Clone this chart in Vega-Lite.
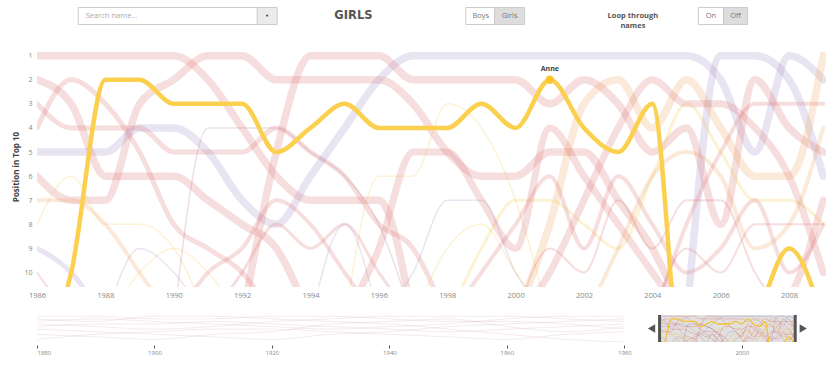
{
  "$schema": "https://vega.github.io/schema/vega-lite/v6.json",
  "padding": {"left": 12, "top": 0, "right": 0, "bottom": 0},
  "background": "white",
  "spacing": 14,
  "config": {"view": {"stroke": null}, "font": "Open Sans", "axis": {"grid": false, "domain": false}},
  "datasets": {
    "header": [
      {"control": "search", "label": "Search name..."},
      {"control": "caret", "label": ""},
      {"control": "title", "label": "GIRLS"},
      {"control": "boys", "label": "Boys"},
      {"control": "girls", "label": "Girls"},
      {"control": "loop", "label": "Loop through\nnames"},
      {"control": "on", "label": "On"},
      {"control": "off", "label": "Off"}
    ],
    "brush": [{"start": 1986, "end": 2009.1}],
    "names": [
      {"name":"Anne","year":1986,"rank":14},{"name":"Anne","year":1987,"rank":10},{"name":"Anne","year":1988,"rank":2},{"name":"Anne","year":1989,"rank":2},{"name":"Anne","year":1990,"rank":3},{"name":"Anne","year":1991,"rank":3},{"name":"Anne","year":1992,"rank":3},{"name":"Anne","year":1993,"rank":5},{"name":"Anne","year":1994,"rank":4},{"name":"Anne","year":1995,"rank":3},{"name":"Anne","year":1996,"rank":4},{"name":"Anne","year":1997,"rank":4},{"name":"Anne","year":1998,"rank":4},{"name":"Anne","year":1999,"rank":3},{"name":"Anne","year":2000,"rank":4},{"name":"Anne","year":2001,"rank":2},{"name":"Anne","year":2002,"rank":4},{"name":"Anne","year":2003,"rank":5},{"name":"Anne","year":2004,"rank":3},{"name":"Anne","year":2005,"rank":16},{"name":"Anne","year":2006,"rank":14},{"name":"Anne","year":2007,"rank":12},{"name":"Anne","year":2008,"rank":9},{"name":"Anne","year":2009,"rank":12},
      {"name":"Linda","year":1986,"rank":1},{"name":"Linda","year":1987,"rank":1},{"name":"Linda","year":1988,"rank":1},{"name":"Linda","year":1989,"rank":1},{"name":"Linda","year":1990,"rank":1},{"name":"Linda","year":1991,"rank":2},{"name":"Linda","year":1992,"rank":4},{"name":"Linda","year":1993,"rank":6},{"name":"Linda","year":1994,"rank":7},{"name":"Linda","year":1995,"rank":7},{"name":"Linda","year":1996,"rank":7},{"name":"Linda","year":1997,"rank":12},
      {"name":"Kim","year":1986,"rank":2},{"name":"Kim","year":1987,"rank":3},{"name":"Kim","year":1988,"rank":6},{"name":"Kim","year":1989,"rank":6},{"name":"Kim","year":1990,"rank":6},{"name":"Kim","year":1991,"rank":7},{"name":"Kim","year":1992,"rank":8},{"name":"Kim","year":1993,"rank":9},{"name":"Kim","year":1994,"rank":12},
      {"name":"Lisa","year":1986,"rank":6},{"name":"Lisa","year":1987,"rank":7},{"name":"Lisa","year":1988,"rank":7},{"name":"Lisa","year":1989,"rank":3},{"name":"Lisa","year":1990,"rank":2},{"name":"Lisa","year":1991,"rank":1},{"name":"Lisa","year":1992,"rank":1},{"name":"Lisa","year":1993,"rank":2},{"name":"Lisa","year":1994,"rank":2},{"name":"Lisa","year":1995,"rank":2},{"name":"Lisa","year":1996,"rank":2},{"name":"Lisa","year":1997,"rank":3},{"name":"Lisa","year":1998,"rank":5},{"name":"Lisa","year":1999,"rank":6},{"name":"Lisa","year":2000,"rank":6},{"name":"Lisa","year":2001,"rank":5},{"name":"Lisa","year":2002,"rank":5},{"name":"Lisa","year":2003,"rank":7},{"name":"Lisa","year":2004,"rank":9},{"name":"Lisa","year":2005,"rank":12},
      {"name":"Sanne","year":1986,"rank":3},{"name":"Sanne","year":1987,"rank":4},{"name":"Sanne","year":1988,"rank":4},{"name":"Sanne","year":1989,"rank":4},{"name":"Sanne","year":1990,"rank":5},{"name":"Sanne","year":1991,"rank":5},{"name":"Sanne","year":1992,"rank":5},{"name":"Sanne","year":1993,"rank":4},{"name":"Sanne","year":1994,"rank":5},{"name":"Sanne","year":1995,"rank":6},{"name":"Sanne","year":1996,"rank":8},{"name":"Sanne","year":1997,"rank":9},{"name":"Sanne","year":1998,"rank":12},
      {"name":"Marloes","year":1986,"rank":4},{"name":"Marloes","year":1987,"rank":2},{"name":"Marloes","year":1988,"rank":3},{"name":"Marloes","year":1989,"rank":5},{"name":"Marloes","year":1990,"rank":8},{"name":"Marloes","year":1991,"rank":9},{"name":"Marloes","year":1992,"rank":10},{"name":"Marloes","year":1993,"rank":12},
      {"name":"Femke","year":1986,"rank":5},{"name":"Femke","year":1987,"rank":5},{"name":"Femke","year":1988,"rank":5},{"name":"Femke","year":1989,"rank":4},{"name":"Femke","year":1990,"rank":4},{"name":"Femke","year":1991,"rank":5},{"name":"Femke","year":1992,"rank":7},{"name":"Femke","year":1993,"rank":8},{"name":"Femke","year":1994,"rank":6},{"name":"Femke","year":1995,"rank":4},{"name":"Femke","year":1996,"rank":2},{"name":"Femke","year":1997,"rank":1},{"name":"Femke","year":1998,"rank":1},{"name":"Femke","year":1999,"rank":1},{"name":"Femke","year":2000,"rank":1},{"name":"Femke","year":2001,"rank":1},{"name":"Femke","year":2002,"rank":1},{"name":"Femke","year":2003,"rank":1},{"name":"Femke","year":2004,"rank":1},{"name":"Femke","year":2005,"rank":1},{"name":"Femke","year":2006,"rank":2},{"name":"Femke","year":2007,"rank":5},{"name":"Femke","year":2008,"rank":1},{"name":"Femke","year":2009,"rank":2},
      {"name":"Iris","year":2005,"rank":12},{"name":"Iris","year":2006,"rank":1},{"name":"Iris","year":2007,"rank":1},{"name":"Iris","year":2008,"rank":2},{"name":"Iris","year":2009,"rank":6},
      {"name":"Laura","year":1992,"rank":12},{"name":"Laura","year":1993,"rank":5},{"name":"Laura","year":1994,"rank":1},{"name":"Laura","year":1995,"rank":1},{"name":"Laura","year":1996,"rank":1},{"name":"Laura","year":1997,"rank":2},{"name":"Laura","year":1998,"rank":2},{"name":"Laura","year":1999,"rank":2},{"name":"Laura","year":2000,"rank":2},{"name":"Laura","year":2001,"rank":3},{"name":"Laura","year":2002,"rank":2},{"name":"Laura","year":2003,"rank":3},{"name":"Laura","year":2004,"rank":5},{"name":"Laura","year":2005,"rank":4},{"name":"Laura","year":2006,"rank":8},{"name":"Laura","year":2007,"rank":2},{"name":"Laura","year":2008,"rank":4},{"name":"Laura","year":2009,"rank":5},
      {"name":"Eva","year":2000,"rank":12},{"name":"Eva","year":2001,"rank":8},{"name":"Eva","year":2002,"rank":3},{"name":"Eva","year":2003,"rank":2},{"name":"Eva","year":2004,"rank":4},{"name":"Eva","year":2005,"rank":2},{"name":"Eva","year":2006,"rank":4},{"name":"Eva","year":2007,"rank":6},{"name":"Eva","year":2008,"rank":6},{"name":"Eva","year":2009,"rank":1},
      {"name":"Julia","year":2004,"rank":12},{"name":"Julia","year":2005,"rank":8},{"name":"Julia","year":2006,"rank":5},{"name":"Julia","year":2007,"rank":3},{"name":"Julia","year":2008,"rank":3},{"name":"Julia","year":2009,"rank":3},
      {"name":"Lotte","year":1986,"rank":8},{"name":"Lotte","year":1987,"rank":6},{"name":"Lotte","year":1988,"rank":8},{"name":"Lotte","year":1989,"rank":8},{"name":"Lotte","year":1990,"rank":9},{"name":"Lotte","year":1991,"rank":12},
      {"name":"Chantal","year":1986,"rank":7},{"name":"Chantal","year":1987,"rank":7},{"name":"Chantal","year":1988,"rank":8},{"name":"Chantal","year":1989,"rank":10},{"name":"Chantal","year":1990,"rank":12},
      {"name":"Daphne","year":1986,"rank":9},{"name":"Daphne","year":1987,"rank":10},{"name":"Daphne","year":1988,"rank":12},
      {"name":"Esther","year":1986,"rank":10},{"name":"Esther","year":1987,"rank":12},
      {"name":"Maaike","year":1995,"rank":12},{"name":"Maaike","year":1996,"rank":6},{"name":"Maaike","year":1997,"rank":6},{"name":"Maaike","year":1998,"rank":3},{"name":"Maaike","year":1999,"rank":4},{"name":"Maaike","year":2000,"rank":7},{"name":"Maaike","year":2001,"rank":12},
      {"name":"Fleur","year":1998,"rank":12},{"name":"Fleur","year":1999,"rank":9},{"name":"Fleur","year":2000,"rank":7},{"name":"Fleur","year":2001,"rank":7},{"name":"Fleur","year":2002,"rank":8},{"name":"Fleur","year":2003,"rank":9},{"name":"Fleur","year":2004,"rank":6},{"name":"Fleur","year":2005,"rank":3},{"name":"Fleur","year":2006,"rank":5},{"name":"Fleur","year":2007,"rank":7},{"name":"Fleur","year":2008,"rank":7},{"name":"Fleur","year":2009,"rank":8},
      {"name":"Anouk","year":1990,"rank":12},{"name":"Anouk","year":1991,"rank":4},{"name":"Anouk","year":1992,"rank":4},{"name":"Anouk","year":1993,"rank":4},{"name":"Anouk","year":1994,"rank":5},{"name":"Anouk","year":1995,"rank":6},{"name":"Anouk","year":1996,"rank":8},{"name":"Anouk","year":1997,"rank":12},
      {"name":"Manon","year":1998,"rank":12},{"name":"Manon","year":1999,"rank":10},{"name":"Manon","year":2000,"rank":8},{"name":"Manon","year":2001,"rank":6},{"name":"Manon","year":2002,"rank":9},{"name":"Manon","year":2003,"rank":6},{"name":"Manon","year":2004,"rank":8},{"name":"Manon","year":2005,"rank":10},{"name":"Manon","year":2006,"rank":9},{"name":"Manon","year":2007,"rank":7},{"name":"Manon","year":2008,"rank":10},{"name":"Manon","year":2009,"rank":8},
      {"name":"Britt","year":2000,"rank":12},{"name":"Britt","year":2001,"rank":10},{"name":"Britt","year":2002,"rank":7},{"name":"Britt","year":2003,"rank":4},{"name":"Britt","year":2004,"rank":2},{"name":"Britt","year":2005,"rank":3},{"name":"Britt","year":2006,"rank":3},{"name":"Britt","year":2007,"rank":4},{"name":"Britt","year":2008,"rank":6},{"name":"Britt","year":2009,"rank":10},
      {"name":"Sara","year":2002,"rank":12},{"name":"Sara","year":2003,"rank":9},{"name":"Sara","year":2004,"rank":6},{"name":"Sara","year":2005,"rank":5},{"name":"Sara","year":2006,"rank":6},{"name":"Sara","year":2007,"rank":9},{"name":"Sara","year":2008,"rank":8},{"name":"Sara","year":2009,"rank":4},
      {"name":"Tess","year":2004,"rank":12},{"name":"Tess","year":2005,"rank":9},{"name":"Tess","year":2006,"rank":10},{"name":"Tess","year":2007,"rank":8},{"name":"Tess","year":2008,"rank":8},{"name":"Tess","year":2009,"rank":8},
      {"name":"Isa","year":2007,"rank":12},{"name":"Isa","year":2008,"rank":11},{"name":"Isa","year":2009,"rank":7},
      {"name":"Kelly","year":1995,"rank":12},{"name":"Kelly","year":1996,"rank":9},{"name":"Kelly","year":1997,"rank":5},{"name":"Kelly","year":1998,"rank":5},{"name":"Kelly","year":1999,"rank":7},{"name":"Kelly","year":2000,"rank":9},{"name":"Kelly","year":2001,"rank":4},{"name":"Kelly","year":2002,"rank":6},{"name":"Kelly","year":2003,"rank":8},{"name":"Kelly","year":2004,"rank":10},{"name":"Kelly","year":2005,"rank":12},
      {"name":"Melissa","year":1996,"rank":12},{"name":"Melissa","year":1997,"rank":10},{"name":"Melissa","year":1998,"rank":7},{"name":"Melissa","year":1999,"rank":7},{"name":"Melissa","year":2000,"rank":10},{"name":"Melissa","year":2001,"rank":12},
      {"name":"Nicole","year":1990,"rank":12},{"name":"Nicole","year":1991,"rank":10},{"name":"Nicole","year":1992,"rank":9},{"name":"Nicole","year":1993,"rank":7},{"name":"Nicole","year":1994,"rank":8},{"name":"Nicole","year":1995,"rank":10},{"name":"Nicole","year":1996,"rank":12},
      {"name":"Mandy","year":1988,"rank":12},{"name":"Mandy","year":1989,"rank":10},{"name":"Mandy","year":1990,"rank":9},{"name":"Mandy","year":1991,"rank":10},{"name":"Mandy","year":1992,"rank":12},
      {"name":"Petra","year":1988,"rank":12},{"name":"Petra","year":1989,"rank":9},{"name":"Petra","year":1990,"rank":10},{"name":"Petra","year":1991,"rank":12},
      {"name":"Denise","year":1991,"rank":12},{"name":"Denise","year":1992,"rank":10},{"name":"Denise","year":1993,"rank":8},{"name":"Denise","year":1994,"rank":9},{"name":"Denise","year":1995,"rank":8},{"name":"Denise","year":1996,"rank":10},{"name":"Denise","year":1997,"rank":12},
      {"name":"Jessica","year":1994,"rank":12},{"name":"Jessica","year":1995,"rank":8},{"name":"Jessica","year":1996,"rank":12},
      {"name":"Romy","year":1997,"rank":12},{"name":"Romy","year":1998,"rank":9},{"name":"Romy","year":1999,"rank":8},{"name":"Romy","year":2000,"rank":10},{"name":"Romy","year":2001,"rank":12},
      {"name":"Naomi","year":2000,"rank":12},{"name":"Naomi","year":2001,"rank":9},{"name":"Naomi","year":2002,"rank":10},{"name":"Naomi","year":2003,"rank":7},{"name":"Naomi","year":2004,"rank":9},{"name":"Naomi","year":2005,"rank":7},{"name":"Naomi","year":2006,"rank":7},{"name":"Naomi","year":2007,"rank":10},{"name":"Naomi","year":2008,"rank":12}
    ],
    "hist": [
      {"name":"h1","year":1880,"rank":1},{"name":"h1","year":1890,"rank":1},{"name":"h1","year":1900,"rank":2},{"name":"h1","year":1910,"rank":2},{"name":"h1","year":1920,"rank":1},{"name":"h1","year":1930,"rank":1},{"name":"h1","year":1940,"rank":2},{"name":"h1","year":1950,"rank":3},{"name":"h1","year":1960,"rank":3},{"name":"h1","year":1970,"rank":4},{"name":"h1","year":1980,"rank":6},
      {"name":"h2","year":1880,"rank":2},{"name":"h2","year":1890,"rank":3},{"name":"h2","year":1900,"rank":1},{"name":"h2","year":1910,"rank":1},{"name":"h2","year":1920,"rank":2},{"name":"h2","year":1930,"rank":3},{"name":"h2","year":1940,"rank":4},{"name":"h2","year":1950,"rank":6},{"name":"h2","year":1960,"rank":8},{"name":"h2","year":1970,"rank":10},{"name":"h2","year":1980,"rank":11},
      {"name":"h3","year":1880,"rank":3},{"name":"h3","year":1890,"rank":2},{"name":"h3","year":1900,"rank":3},{"name":"h3","year":1910,"rank":4},{"name":"h3","year":1920,"rank":5},{"name":"h3","year":1930,"rank":6},{"name":"h3","year":1940,"rank":5},{"name":"h3","year":1950,"rank":4},{"name":"h3","year":1960,"rank":2},{"name":"h3","year":1970,"rank":1},{"name":"h3","year":1980,"rank":1},
      {"name":"h4","year":1880,"rank":4},{"name":"h4","year":1890,"rank":5},{"name":"h4","year":1900,"rank":6},{"name":"h4","year":1910,"rank":5},{"name":"h4","year":1920,"rank":3},{"name":"h4","year":1930,"rank":2},{"name":"h4","year":1940,"rank":1},{"name":"h4","year":1950,"rank":1},{"name":"h4","year":1960,"rank":1},{"name":"h4","year":1970,"rank":2},{"name":"h4","year":1980,"rank":3},
      {"name":"h5","year":1880,"rank":5},{"name":"h5","year":1890,"rank":4},{"name":"h5","year":1900,"rank":4},{"name":"h5","year":1910,"rank":3},{"name":"h5","year":1920,"rank":4},{"name":"h5","year":1930,"rank":5},{"name":"h5","year":1940,"rank":6},{"name":"h5","year":1950,"rank":7},{"name":"h5","year":1960,"rank":6},{"name":"h5","year":1970,"rank":5},{"name":"h5","year":1980,"rank":4},
      {"name":"h6","year":1880,"rank":6},{"name":"h6","year":1890,"rank":7},{"name":"h6","year":1900,"rank":8},{"name":"h6","year":1910,"rank":9},{"name":"h6","year":1920,"rank":10},{"name":"h6","year":1930,"rank":8},{"name":"h6","year":1940,"rank":7},{"name":"h6","year":1950,"rank":5},{"name":"h6","year":1960,"rank":4},{"name":"h6","year":1970,"rank":3},{"name":"h6","year":1980,"rank":2},
      {"name":"h7","year":1880,"rank":8},{"name":"h7","year":1890,"rank":9},{"name":"h7","year":1900,"rank":10},{"name":"h7","year":1910,"rank":8},{"name":"h7","year":1920,"rank":7},{"name":"h7","year":1930,"rank":4},{"name":"h7","year":1940,"rank":3},{"name":"h7","year":1950,"rank":2},{"name":"h7","year":1960,"rank":5},{"name":"h7","year":1970,"rank":7},{"name":"h7","year":1980,"rank":5},
      {"name":"h8","year":1880,"rank":10},{"name":"h8","year":1890,"rank":8},{"name":"h8","year":1900,"rank":7},{"name":"h8","year":1910,"rank":6},{"name":"h8","year":1920,"rank":6},{"name":"h8","year":1930,"rank":7},{"name":"h8","year":1940,"rank":8},{"name":"h8","year":1950,"rank":9},{"name":"h8","year":1960,"rank":10},{"name":"h8","year":1970,"rank":8},{"name":"h8","year":1980,"rank":7}
    ]
  },
  "vconcat": [
    {
      "width": 789,
      "height": 32,
      "data": {"name": "header"},
      "encoding": {
        "x": {"field": "control", "type": "nominal", "axis": null,
          "scale": {"type": "point", "padding": 0, "domain": ["0","1","2","3","4","5","6","7","8","9","10","11","12","13","14","15","16","17","18","19","20","21","22","23","24","25","26","27","28","29","30","31","32","33","search","35","36","37","38","39","40","41","42","43","44","45","46","47","48","49","50","51","52","53","54","55","caret","57","58","59","60","61","62","63","64","65","66","67","68","69","70","71","72","73","74","75","76","title","78","79","80","81","82","83","84","85","86","87","88","89","90","91","92","93","94","95","96","97","98","99","100","101","102","103","104","105","106","107","boys","109","110","111","112","113","114","girls","116","117","118","119","120","121","122","123","124","125","126","127","128","129","130","131","132","133","134","135","136","137","138","139","140","141","142","143","144","loop","146","147","148","149","150","151","152","153","154","155","156","157","158","159","160","161","162","163","on","165","166","167","168","169","off","171","172","173","174","175","176","177","178","179","180","181","182","183","184","185","186","187","188","189","190","191","192"]}}
      },
      "layer": [
        {
          "transform": [{"filter": {"field": "control", "oneOf": ["search", "caret", "boys", "girls", "on", "off"]}}],
          "mark": {"type": "point", "filled": true, "size": 4, "opacity": 1, "stroke": "#cccccc", "strokeWidth": 1},
          "encoding": {
            "shape": {"field": "control", "type": "nominal", "legend": null,
              "scale": {"domain": ["search", "caret", "boys", "girls", "on", "off"],
                "range": ["M-98.5,-8.5H98.5V8.5H-98.5Z", "M-10,-8.5H10V8.5H-10Z", "M-15,-8.5H15V8.5H-15Z", "M-15,-8.5H15V8.5H-15Z", "M-12.5,-8.5H12.5V8.5H-12.5Z", "M-12,-8.5H12V8.5H-12Z"]}},
            "fill": {"field": "control", "type": "nominal", "legend": null,
              "scale": {"domain": ["search", "caret", "boys", "girls", "on", "off"],
                "range": ["#ffffff", "#ebebeb", "#ffffff", "#dddddd", "#ffffff", "#dddddd"]}}
          }
        },
        {
          "transform": [{"filter": "datum.control == 'caret'"}],
          "mark": {"type": "point", "shape": "triangle-down", "filled": true, "size": 9, "color": "#555555", "opacity": 1}
        },
        {
          "transform": [{"filter": "datum.control == 'search'"}],
          "mark": {"type": "text", "align": "left", "dx": -91, "fontSize": 7.5, "color": "#aaaaaa"},
          "encoding": {"text": {"field": "label"}}
        },
        {
          "transform": [{"filter": "datum.control == 'title'"}],
          "mark": {"type": "text", "fontSize": 11.5, "fontWeight": "bold", "font": "DejaVu Sans", "color": "#555555"},
          "encoding": {"text": {"field": "label"}}
        },
        {
          "transform": [{"filter": {"field": "control", "oneOf": ["boys", "girls", "on", "off"]}}],
          "mark": {"type": "text", "fontSize": 7.5, "color": "#777777"},
          "encoding": {"text": {"field": "label"}}
        },
        {
          "transform": [{"filter": "datum.control == 'loop'"}],
          "mark": {"type": "text", "fontSize": 7.5, "fontWeight": "bold", "color": "#555555", "lineBreak": "\n", "lineHeight": 10},
          "encoding": {"text": {"field": "label"}}
        }
      ]
    },
    {
      "width": 789,
      "height": 241,
      "data": {"name": "names"},
      "encoding": {
        "x": {"field": "year", "type": "quantitative",
          "scale": {"domain": [1986, 2009.08], "nice": false, "zero": false},
          "axis": {"values": [1986,1988,1990,1992,1994,1996,1998,2000,2002,2004,2006,2008], "format": "d", "labelFontSize": 7.5, "labelColor": "#888888", "ticks": false, "domain": false, "labelPadding": 4, "title": null, "minExtent": 12, "maxExtent": 12, "labelFlush": false}},
        "y": {"field": "rank", "type": "quantitative",
          "scale": {"domain": [0.6, 10.6], "reverse": true, "nice": false, "zero": false},
          "axis": {"values": [1,2,3,4,5,6,7,8,9,10], "labelFontSize": 7, "labelColor": "#888888", "ticks": false, "domain": false, "labelPadding": 5, "title": "Position in Top 10", "titleFontSize": 8, "titleFontWeight": "bold", "titleColor": "#444444", "titlePadding": 3}}
      },
      "layer": [
        {
          "transform": [{"filter": "datum.name != 'Anne'"}],
          "mark": {"type": "line", "interpolate": "monotone", "clip": true, "strokeOpacity": 0.22, "strokeCap": "round", "strokeJoin": "round"},
          "encoding": {
            "color": {"field": "name", "type": "nominal", "legend": null,
              "scale": {"domain": ["Anne","Linda","Kim","Lisa","Sanne","Marloes","Femke","Iris","Laura","Eva","Julia","Lotte","Chantal","Daphne","Esther","Maaike","Fleur","Anouk","Manon","Britt","Sara","Tess","Isa","Kelly","Melissa","Nicole","Mandy","Petra","Denise","Jessica","Romy","Naomi"],
                "range": ["#fcd04f","#d96b6b","#d96b6b","#d96b6b","#d96b6b","#d96b6b","#9c84bf","#9c84bf","#d96b6b","#ee9a55","#d96b6b","#f2c23a","#ee9a55","#9c84bf","#d96b6b","#f2c23a","#f2c23a","#b06a90","#d96b6b","#d96b6b","#ee9a55","#d96b6b","#d96b6b","#d96b6b","#9c84bf","#d96b6b","#f2c23a","#9c84bf","#d96b6b","#9c84bf","#f2c23a","#d96b6b"]}},
            "strokeWidth": {"field": "name", "type": "nominal", "legend": null,
              "scale": {"type": "ordinal", "domain": ["Anne","Linda","Kim","Lisa","Sanne","Marloes","Femke","Iris","Laura","Eva","Julia","Lotte","Chantal","Daphne","Esther","Maaike","Fleur","Anouk","Manon","Britt","Sara","Tess","Isa","Kelly","Melissa","Nicole","Mandy","Petra","Denise","Jessica","Romy","Naomi"],
                "range": [4.5,7.5,7.5,7.5,5,5,7.5,7.5,7.5,7.5,4,1.5,4,5,2,1.5,3,1.5,4,7,4,2,7,7,1.5,4,1.5,1.5,3,1.5,1.5,2]}}
          }
        },
        {
          "transform": [{"filter": "datum.name == 'Anne'"}],
          "mark": {"type": "line", "interpolate": "monotone", "clip": true, "color": "#fcd04f", "strokeWidth": 4.5, "strokeCap": "round", "strokeJoin": "round"}
        },
        {
          "transform": [{"filter": "datum.name == 'Anne' && datum.year == 2001"}],
          "mark": {"type": "point", "filled": true, "size": 70, "color": "#fcc42e", "opacity": 1}
        },
        {
          "transform": [{"filter": "datum.name == 'Anne' && datum.year == 2001"}],
          "mark": {"type": "text", "dy": -11, "fontSize": 7, "fontWeight": "bold", "color": "#444444"},
          "encoding": {"text": {"field": "name"}}
        }
      ]
    },
    {
      "width": 787,
      "height": 27,
      "layer": [
        {
          "data": {"name": "brush"},
          "mark": {"type": "rect", "color": "#bdbdbd", "opacity": 0.45},
          "encoding": {
            "x": {"field": "start", "type": "quantitative", "scale": {"domain": [1880, 2014], "nice": false, "zero": false},
              "axis": {"values": [1880,1900,1920,1940,1960,1980,2000], "format": "d", "title": null, "labelFontSize": 6, "labelColor": "#888888", "tickSize": 3, "tickColor": "#555555", "offset": 3, "labelPadding": 1, "domain": false}},
            "x2": {"field": "end"}
          }
        },
        {
          "data": {"name": "hist"},
          "mark": {"type": "line", "interpolate": "monotone", "clip": true, "color": "#c9a0a0", "strokeOpacity": 0.3, "strokeWidth": 0.7},
          "encoding": {
            "x": {"field": "year", "type": "quantitative", "scale": {"domain": [1880, 2014], "nice": false, "zero": false},
              "axis": {"values": [1880,1900,1920,1940,1960,1980,2000], "format": "d", "title": null, "labelFontSize": 6, "labelColor": "#888888", "tickSize": 3, "tickColor": "#555555", "offset": 3, "labelPadding": 1, "domain": false}},
            "y": {"field": "rank", "type": "quantitative", "scale": {"domain": [0.5, 11], "reverse": true, "nice": false, "zero": false}, "axis": null},
            "detail": {"field": "name"}
          }
        },
        {
          "data": {"name": "names"},
          "transform": [{"filter": "datum.name != 'Anne'"}],
          "mark": {"type": "line", "interpolate": "monotone", "clip": true, "strokeOpacity": 0.5, "strokeWidth": 0.7},
          "encoding": {
            "x": {"field": "year", "type": "quantitative", "scale": {"domain": [1880, 2014], "nice": false, "zero": false},
              "axis": {"values": [1880,1900,1920,1940,1960,1980,2000], "format": "d", "title": null, "labelFontSize": 6, "labelColor": "#888888", "tickSize": 3, "tickColor": "#555555", "offset": 3, "labelPadding": 1, "domain": false}},
            "y": {"field": "rank", "type": "quantitative", "scale": {"domain": [0.5, 11], "reverse": true, "nice": false, "zero": false}, "axis": null},
            "color": {"field": "name", "type": "nominal", "legend": null,
              "scale": {"domain": ["Anne","Linda","Kim","Lisa","Sanne","Marloes","Femke","Iris","Laura","Eva","Julia","Lotte","Chantal","Daphne","Esther","Maaike","Fleur","Anouk","Manon","Britt","Sara","Tess","Isa","Kelly","Melissa","Nicole","Mandy","Petra","Denise","Jessica","Romy","Naomi"],
                "range": ["#fcd04f","#d96b6b","#d96b6b","#d96b6b","#d96b6b","#d96b6b","#9c84bf","#9c84bf","#d96b6b","#ee9a55","#d96b6b","#f2c23a","#ee9a55","#9c84bf","#d96b6b","#f2c23a","#f2c23a","#b06a90","#d96b6b","#d96b6b","#ee9a55","#d96b6b","#d96b6b","#d96b6b","#9c84bf","#d96b6b","#f2c23a","#9c84bf","#d96b6b","#9c84bf","#f2c23a","#d96b6b"]}}
          }
        },
        {
          "data": {"name": "names"},
          "transform": [{"filter": "datum.name == 'Anne'"}],
          "mark": {"type": "line", "interpolate": "monotone", "clip": true, "color": "#f5c030", "strokeWidth": 1.3},
          "encoding": {
            "x": {"field": "year", "type": "quantitative", "scale": {"domain": [1880, 2014], "nice": false, "zero": false},
              "axis": {"values": [1880,1900,1920,1940,1960,1980,2000], "format": "d", "title": null, "labelFontSize": 6, "labelColor": "#888888", "tickSize": 3, "tickColor": "#555555", "offset": 3, "labelPadding": 1, "domain": false}},
            "y": {"field": "rank", "type": "quantitative", "scale": {"domain": [0.5, 11], "reverse": true, "nice": false, "zero": false}, "axis": null}
          }
        },
        {
          "data": {"name": "brush"},
          "mark": {"type": "rule", "color": "#555555", "strokeWidth": 3},
          "encoding": {
            "x": {"field": "start", "type": "quantitative", "scale": {"domain": [1880, 2014], "nice": false, "zero": false},
              "axis": {"values": [1880,1900,1920,1940,1960,1980,2000], "format": "d", "title": null, "labelFontSize": 6, "labelColor": "#888888", "tickSize": 3, "tickColor": "#555555", "offset": 3, "labelPadding": 1, "domain": false}}
          }
        },
        {
          "data": {"name": "brush"},
          "mark": {"type": "rule", "color": "#555555", "strokeWidth": 3},
          "encoding": {
            "x": {"field": "end", "type": "quantitative", "scale": {"domain": [1880, 2014], "nice": false, "zero": false},
              "axis": {"values": [1880,1900,1920,1940,1960,1980,2000], "format": "d", "title": null, "labelFontSize": 6, "labelColor": "#888888", "tickSize": 3, "tickColor": "#555555", "offset": 3, "labelPadding": 1, "domain": false}}
          }
        },
        {
          "data": {"name": "brush"},
          "mark": {"type": "point", "shape": "triangle-left", "filled": true, "size": 70, "color": "#555555", "opacity": 1, "xOffset": -8},
          "encoding": {
            "x": {"field": "start", "type": "quantitative", "scale": {"domain": [1880, 2014], "nice": false, "zero": false},
              "axis": {"values": [1880,1900,1920,1940,1960,1980,2000], "format": "d", "title": null, "labelFontSize": 6, "labelColor": "#888888", "tickSize": 3, "tickColor": "#555555", "offset": 3, "labelPadding": 1, "domain": false}}
          }
        },
        {
          "data": {"name": "brush"},
          "mark": {"type": "point", "shape": "triangle-right", "filled": true, "size": 70, "color": "#555555", "opacity": 1, "xOffset": 8},
          "encoding": {
            "x": {"field": "end", "type": "quantitative", "scale": {"domain": [1880, 2014], "nice": false, "zero": false},
              "axis": {"values": [1880,1900,1920,1940,1960,1980,2000], "format": "d", "title": null, "labelFontSize": 6, "labelColor": "#888888", "tickSize": 3, "tickColor": "#555555", "offset": 3, "labelPadding": 1, "domain": false}}
          }
        }
      ]
    }
  ]
}
